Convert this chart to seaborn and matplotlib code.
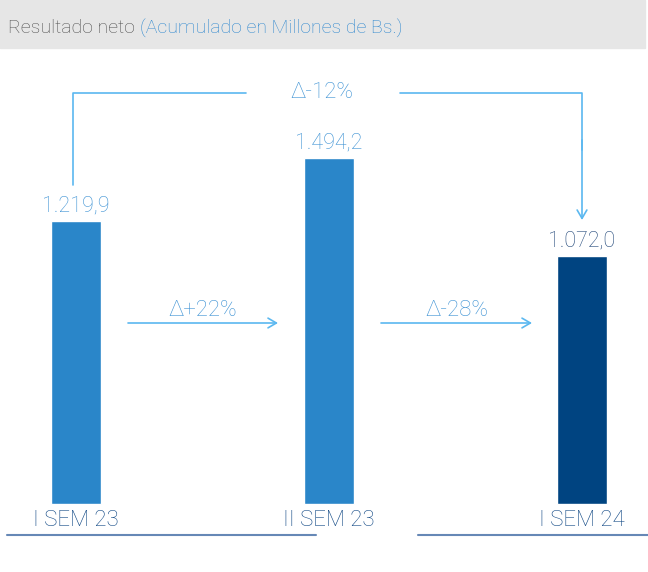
import pandas as pd
import seaborn as sns
import matplotlib.pyplot as plt
from matplotlib.patches import Rectangle

categories = ["I SEM 23", "II SEM 23", "I SEM 24"]
values = [1219.9, 1494.2, 1072.0]
value_labels = ["1.219,9", "1.494,2", "1.072,0"]
delta_labels = ["Δ+22%", "Δ-28%", "Δ-12%"]
bar_colors = ["#2a86c9", "#2a86c9", "#004481"]

df = pd.DataFrame({"periodo": categories, "valor": values})

sns.set_style("white")
plt.rcParams["font.family"] = ["Roboto", "DejaVu Sans"]

fig = plt.figure(figsize=(6.48, 5.72), dpi=100)
ax = fig.add_axes([0, 0, 1, 1])

# map pixel layout to data: bar centers 253 px apart, zero line at y=504 px
XS = 253.0
YS = 1 / 0.2318
def px(x, y):
    return (x - 76) / XS, (504 - y) * YS

sns.barplot(data=df, x="periodo", y="valor", hue="periodo", palette=bar_colors,
            width=0.198, legend=False, ax=ax, saturation=1)
ax.set_xlim(px(0, 0)[0], px(648, 0)[0])
ax.set_ylim(px(0, 572)[1], px(0, 0)[1])
ax.axis("off")

# value labels
for i, (v, lab) in enumerate(zip(values, value_labels)):
    col = "#23497a" if i == 2 else "#3d92d4"
    ax.text(i, v + 15 * YS, lab, ha="center", va="center", fontsize=15.5,
            color=col, fontweight="light")

# category labels and underlines
for i, c in enumerate(categories):
    ax.text(i, px(0, 521)[1], c, ha="center", va="center", fontsize=16,
            color="#134a86", fontweight="light")
for x0, x1 in [(7, 316), (418, 648)]:
    a, b = px(x0, 535), px(x1, 535)
    ax.plot([a[0], b[0]], [a[1], b[1]], color="#6688b6", lw=1.5)

arrow_col = "#5bb8f0"
akw = dict(arrowstyle="->,head_length=0.6,head_width=0.35", color=arrow_col, lw=1.2,
           shrinkA=0, shrinkB=0)

# middle arrows
for (x0, x1), lab in zip([(128, 278), (381, 532)], delta_labels[:2]):
    ax.annotate("", xy=px(x1, 323), xytext=px(x0, 323), arrowprops=akw)
    ax.text(*px((x0 + x1) / 2, 310), lab, ha="center", va="center", fontsize=16,
            color="#3d92d4", fontweight="light")

# top bracket
pts = [px(73, 185), px(73, 93), px(246, 93)]
ax.plot([p[0] for p in pts], [p[1] for p in pts], color=arrow_col, lw=1.2)
pts = [px(400, 93), px(582, 93), px(582, 150)]
ax.plot([p[0] for p in pts], [p[1] for p in pts], color=arrow_col, lw=1.2)
ax.annotate("", xy=px(582, 220), xytext=px(582, 140), arrowprops=akw)
ax.text(*px(322, 93), delta_labels[2], ha="center", va="center", fontsize=16,
        color="#3d92d4", fontweight="light")

# header band
fig.patches.append(Rectangle((0, 1 - 48 / 572), 645 / 648, 48 / 572,
                             transform=fig.transFigure, color="#e6e6e6", zorder=0))
t1 = fig.text(8 / 648, 1 - 28 / 572, "Resultado neto ", fontsize=14, color="#505050",
              va="center", fontweight="light")
fig.canvas.draw()
bb = t1.get_window_extent()
fig.text(bb.x1 / fig.bbox.width, 1 - 28 / 572, "(Acumulado en Millones de Bs.)",
         fontsize=14, color="#2f88cf", va="center", fontweight="light")

fig.savefig("out.png", dpi=100)
